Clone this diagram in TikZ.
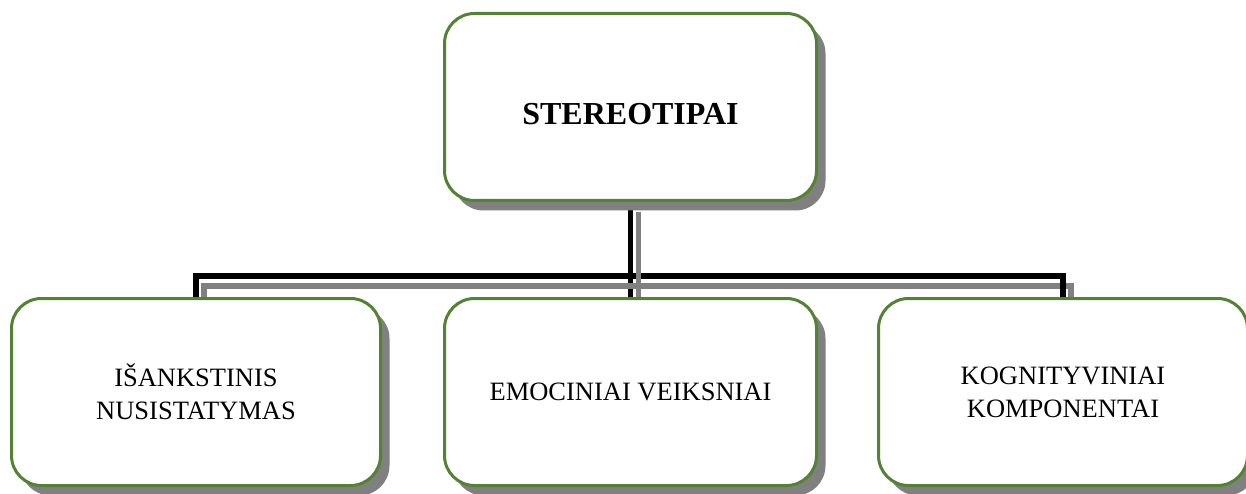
\documentclass[tikz,border=0pt]{standalone}
\usepackage{fontspec}
\setmainfont{Liberation Serif}
\usetikzlibrary{positioning,shadows,backgrounds}
\definecolor{boxgreen}{RGB}{84,130,53}
\begin{document}
\begin{tikzpicture}[
    x=1pt, y=1pt,
    node distance=95pt,
    box/.style={rectangle, rounded corners=30pt, draw=boxgreen, line width=3pt, fill=white,
        minimum width=372pt, minimum height=187pt, align=center,
        font=\fontsize{26.5}{33}\selectfont,
        drop shadow={shadow xshift=9pt, shadow yshift=-10pt, fill=gray, opacity=1}},
    link/.style={line width=5.5pt},
    linkshadow/.style={line width=5.5pt, draw=gray, transform canvas={shift={(8pt,-10pt)}}}
]
\useasboundingbox (0,0) rectangle (1246,493);

% top
\node[box, font=\fontsize{32}{38}\selectfont\bfseries, text height=35pt] (stereo) at (630.5,386) {STEREOTIPAI};

% middle
\node[box, below=of stereo] (emo) {EMOCINIAI VEIKSNIAI};

% left / right
\node[box, minimum width=369pt, left=61pt of emo] (isank) {IŠANKSTINIS\\NUSISTATYMAS};
\node[box, minimum width=369pt, right=59pt of emo] (kogn) {KOGNITYVINIAI\\KOMPONENTAI};

% connectors
\begin{scope}[on background layer]
\draw[linkshadow] (stereo.south) -- ++(0,-74) -| (kogn.north);
\draw[link] (stereo.south) -- ++(0,-74) -| (kogn.north);
\draw[linkshadow] (stereo.south) -- (emo.north);
\draw[link] (stereo.south) -- (emo.north);
\draw[linkshadow] (stereo.south) -- ++(0,-74) -| (isank.north);
\draw[link] (stereo.south) -- ++(0,-74) -| (isank.north);
\end{scope}

\end{tikzpicture}
\end{document}
